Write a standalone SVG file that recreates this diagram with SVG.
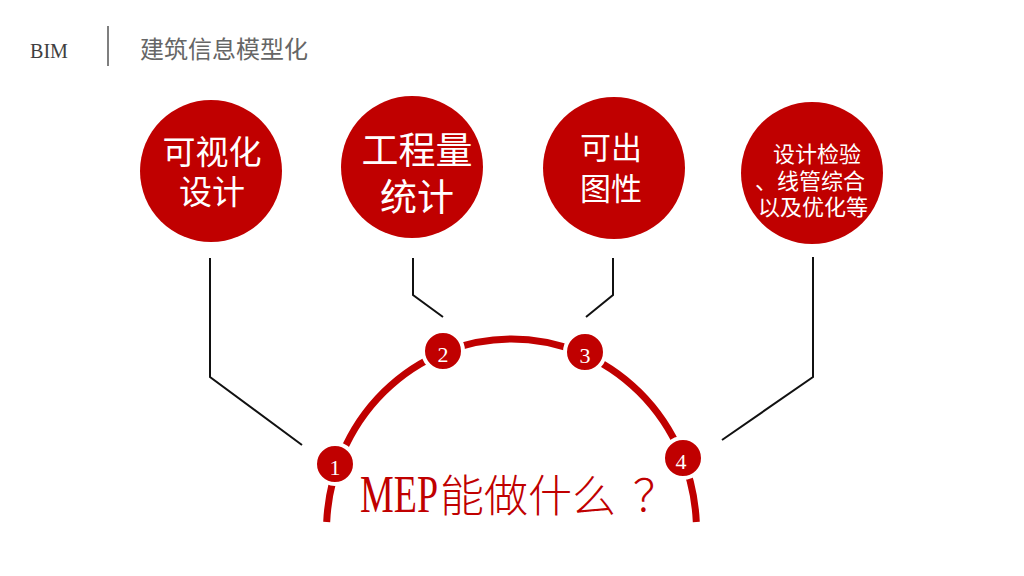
<svg xmlns="http://www.w3.org/2000/svg" width="1024" height="576" viewBox="0 0 1024 576">
<style>
.big{fill:#C00000}
.ct{fill:#ffffff;font-family:"Noto Sans CJK SC","Noto Sans",sans-serif}
.num{fill:#ffffff;font-family:"Liberation Serif",serif;font-size:22px;text-anchor:middle}
.dot{fill:#C00000;stroke:#ffffff;stroke-width:4}
.conn{fill:none;stroke:#111111;stroke-width:2}
.ttl{fill:#C00000;font-family:"Noto Sans CJK SC",sans-serif;font-size:44px;font-weight:300}
</style>
<rect width="1024" height="576" fill="#ffffff"/>
<g id="header">
<text x="30" y="58" font-family="Liberation Serif,serif" font-size="21" fill="#404040" textLength="38" lengthAdjust="spacingAndGlyphs">BIM</text>
<line x1="108" y1="26" x2="108" y2="66" stroke="#555555" stroke-width="1.5"/>
<text x="140" y="58" font-family="Noto Sans CJK SC,sans-serif" font-size="24" fill="#666666">建筑信息模型化</text>
</g>
<g id="connectors">
<polyline class="conn" points="210,258 210,377 302,445"/>
<polyline class="conn" points="413,258 413,295 443,317"/>
<polyline class="conn" points="613,258 613,295 586,317"/>
<polyline class="conn" points="813,257 813,377 722,440"/>
<path d="M 326.7 522 A 185 192 0 0 1 696.3 522" fill="none" stroke="#C00000" stroke-width="7"/>
</g>
<g id="node-visual">
<circle class="big" cx="211" cy="171" r="71"/>
<text class="ct" x="212" y="164" font-size="33" text-anchor="middle">可视化</text>
<text class="ct" x="212" y="204" font-size="33" text-anchor="middle">设计</text>
</g>
<g id="node-quantity">
<circle class="big" cx="412" cy="167" r="71"/>
<text class="ct" x="417" y="164" font-size="37" text-anchor="middle">工程量</text>
<text class="ct" x="417" y="211" font-size="37" text-anchor="middle">统计</text>
</g>
<g id="node-drawing">
<circle class="big" cx="614" cy="168" r="71"/>
<text class="ct" x="611" y="159" font-size="31" text-anchor="middle">可出</text>
<text class="ct" x="611" y="200" font-size="31" text-anchor="middle">图性</text>
</g>
<g id="node-check">
<circle class="big" cx="812" cy="173" r="71"/>
<text class="ct" x="773" y="162" font-size="22">设计检验</text>
<text class="ct" x="755" y="189" font-size="22">、线管综合</text>
<text class="ct" x="758" y="215" font-size="22">以及优化等</text>
</g>
<g id="marker-1">
<circle class="dot" cx="335" cy="464" r="20"/>
<text class="num" x="335" y="475">1</text>
</g>
<g id="marker-2">
<circle class="dot" cx="443" cy="351" r="20"/>
<text class="num" x="443" y="362">2</text>
</g>
<g id="marker-3">
<circle class="dot" cx="585" cy="352" r="20"/>
<text class="num" x="585" y="363">3</text>
</g>
<g id="marker-4">
<circle class="dot" cx="683" cy="458" r="20"/>
<text class="num" x="681" y="469">4</text>
</g>
<g id="title">
<text x="360" y="512" font-family="Liberation Serif,serif" font-size="52" fill="#C00000" textLength="78" lengthAdjust="spacingAndGlyphs">MEP</text>
<text class="ttl" x="440" y="512">能做什么<tspan x="633">？</tspan></text>
</g>
</svg>
